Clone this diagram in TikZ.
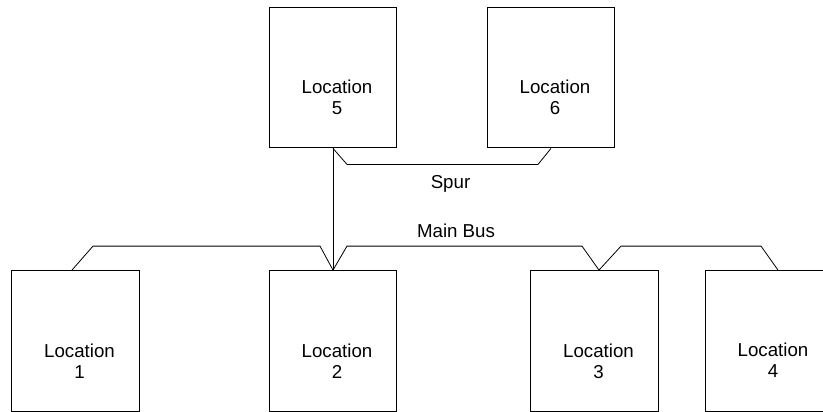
\documentclass[tikz,border=0pt]{standalone}
\usepackage{fontspec}
\setmainfont{Liberation Sans}

\begin{document}
\begin{tikzpicture}[x=1pt, y=-1pt,
  locbox/.style={draw, line width=1.3pt, minimum width=127.5pt, minimum height=140.5pt, inner sep=0pt},
  loctext/.style={align=center, inner sep=0pt, font=\fontsize{18.7}{21}\selectfont},
  wire/.style={line width=0.8pt},
  wirelabel/.style={anchor=base, inner sep=0pt, font=\fontsize{18.7}{21}\selectfont}]
\useasboundingbox (0,0) rectangle (823,412);

% Standorte oben
\node[locbox] (loc5) at (333,77.5) {};
\node[locbox] (loc6) at (551,77.5) {};
\node[loctext] (txt5) at ([xshift=4pt,yshift=-20pt]loc5.center) {Location\\5};
\node[loctext] (txt6) at ([xshift=4pt,yshift=-20pt]loc6.center) {Location\\6};

% Standorte unten
\node[locbox] (loc1) at (75.5,341) {};
\node[locbox] (loc2) at (333,341) {};
\node[locbox] (loc3) at (594.5,341) {};
\node[locbox] (loc4) at (769,341) {};
\node[loctext] (txt1) at ([xshift=4pt,yshift=-20pt]loc1.center) {Location\\1};
\node[loctext] (txt2) at ([xshift=4pt,yshift=-20pt]loc2.center) {Location\\2};
\node[loctext] (txt3) at ([xshift=4pt,yshift=-20pt]loc3.center) {Location\\3};
\node[loctext] (txt4) at ([xshift=4pt,yshift=-19pt]loc4.center) {Location\\4};

% Stichleitung
\draw[wire] (loc5.south) -- ++(14,16) -- ++(191,0) -- (loc6.south);
\draw[wire] (loc5.south) -- (loc2.north);
\node[wirelabel] (spur) at (450.5,188) {Spur};

% Hauptbus
\draw[wire] ([xshift=-3.5pt]loc1.north) -- ++(21,-24) -- ++(227,0) -- (loc2.north)
  -- ++(14,-24) -- ++(235,0) -- ([xshift=4.5pt]loc3.north)
  -- ++(22,-24) -- ++(140,0) -- ([xshift=9pt]loc4.north);
\node[wirelabel] (mainbus) at (456,237) {Main Bus};
\end{tikzpicture}
\end{document}
